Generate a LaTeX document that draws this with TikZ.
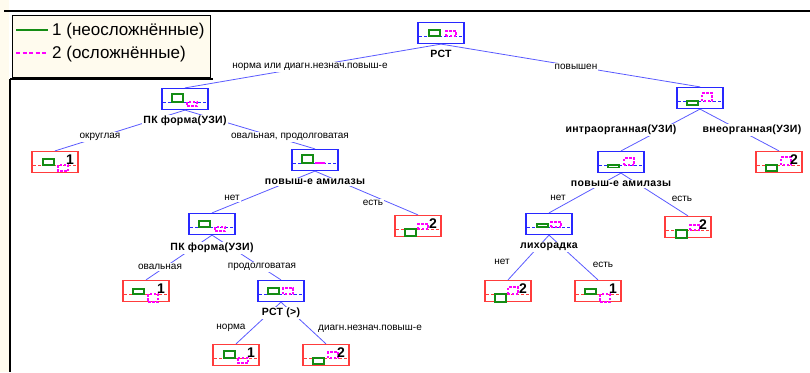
\documentclass[tikz,border=0pt]{standalone}
\usepackage{fontspec}
\setmainfont{Liberation Sans}
\newfontfamily\lblfont[LetterSpace=3.0]{Liberation Sans}
\usepackage{xcolor}
\usetikzlibrary{positioning}

\definecolor{boxblue}{RGB}{40,40,255}
\definecolor{boxred}{RGB}{255,60,60}
\definecolor{edgeblue}{RGB}{90,90,255}
\definecolor{bargreen}{RGB}{20,140,20}
\definecolor{barpink}{RGB}{255,0,255}
\definecolor{legcream}{RGB}{255,251,238}

% midline and the two class bars inside a box
\newcommand{\nodebars}[6]{%
  \begin{scope}[shift={(#1.center)}]
    \draw[midline, #2] (-22,3) -- (22,3);
    \draw[gbar] (#3,3) rectangle ++(11,#4);
    \draw[mbar] (#5,3) rectangle ++(10,#6);
  \end{scope}}

\begin{document}
\begin{tikzpicture}[
    x=1pt, y=-1pt,
    ibox/.style={
        rectangle,
        draw=boxblue,
        line width=1.2pt,
        fill=white,
        minimum width=46pt,
        minimum height=21pt,
        inner sep=0pt
    },
    lbox/.style={
        ibox,
        draw=boxred
    },
    nlab/.style={
        font=\lblfont\fontsize{10.5}{11}\selectfont\bfseries,
        fill=white,
        inner sep=1pt
    },
    elab/.style={
        font=\fontsize{10}{11}\selectfont,
        fill=white,
        inner sep=1pt
    },
    digit/.style={
        font=\fontsize{14}{14}\selectfont\bfseries,
        inner sep=0pt
    },
    link/.style={
        draw=edgeblue,
        line width=0.8pt
    },
    midline/.style={
        dash pattern=on 3pt off 2pt,
        line width=0.9pt
    },
    gbar/.style={
        draw=bargreen,
        line width=1.1pt
    },
    mbar/.style={
        draw=barpink,
        dash pattern=on 2.5pt off 1.5pt,
        line width=1.2pt
    }
]
    \useasboundingbox (0,0) rectangle (810,372);

    % frame and legend
    \fill[legcream] (0,0) rectangle (9,372);
    \draw[line width=1.2pt] (4,11) -- (810,11);
    \draw[line width=1.2pt] (10,79) -- (10,372);
    \draw[line width=1.6pt] (10,79) -- (213,79);
    \node[draw, fill=legcream, line width=0.9pt, anchor=north west,
          minimum width=198pt, minimum height=62pt] (leg) at (12,15) {};
    \node[anchor=west, inner sep=0pt, font=\fontsize{17}{17}\selectfont] (leg1) at (52,31) {1 (неосложнённые)};
    \node[anchor=west, inner sep=0pt, font=\fontsize{17}{17}\selectfont] (leg2) at (52,54) {2 (осложнённые)};
    \draw[gbar, line width=1.3pt] (16,30) -- (48,30);
    \draw[mbar, dash pattern=on 4pt off 2.5pt, line width=1.3pt] (16,53) -- (48,53);

    % boxes of the tree
    \node[ibox] (r) at (441,33) {};
    \node[ibox] (a) at (185,99) {};
    \node[ibox] (b) at (700,98) {};
    \node[lbox] (a1) at (55,162) {};
    \node[ibox] (c) at (315,160) {};
    \node[ibox] (b1) at (621,162) {};
    \node[lbox] (b2) at (779,162) {};
    \node[ibox] (d) at (212,224) {};
    \node[lbox] (c2) at (418,226) {};
    \node[ibox] (e) at (549,224) {};
    \node[lbox] (b12) at (688,227) {};
    \node[lbox] (d1) at (146,291) {};
    \node[ibox] (f) at (281,291) {};
    \node[lbox] (e2) at (508,291) {};
    \node[lbox] (e1) at (598,291) {};
    \node[lbox] (f1) at (236,355) {};
    \node[lbox] (f2) at (326,355) {};

    \nodebars{r}{boxblue}{-12}{-6}{5}{-5}
    \nodebars{a}{boxblue}{-13}{-8}{2}{4}
    \nodebars{b}{boxblue}{-13}{4}{2}{-8}
    \nodebars{a1}{boxred}{-12}{-6}{3}{6}
    \nodebars{c}{boxblue}{-13}{-8}{0}{0}
    \nodebars{b1}{boxblue}{-13}{2.5}{3}{-7}
    \nodebars{b2}{boxred}{-13}{6}{2}{-8}
    \nodebars{d}{boxblue}{-13}{-6}{3}{4}
    \nodebars{c2}{boxred}{-13}{7}{0}{-5}
    \nodebars{e}{boxblue}{-12}{-3}{2}{-5}
    \nodebars{b12}{boxred}{-12}{8}{2}{-5}
    \nodebars{d1}{boxred}{-13}{-5}{2}{8}
    \nodebars{f}{boxblue}{-13}{-6}{2}{-6}
    \nodebars{e2}{boxred}{-13}{8}{0}{-7}
    \nodebars{e1}{boxred}{-13}{-5}{2}{8}
    \nodebars{f1}{boxred}{-12}{-7}{2}{5}
    \nodebars{f2}{boxred}{-13}{6}{2}{-6}

    % class numbers in the leaves
    \node[digit] (a1n) at ([shift={(15,-2)}]a1.center) {1};
    \node[digit] (b2n) at ([shift={(15,-2)}]b2.center) {2};
    \node[digit] (c2n) at ([shift={(15,-2)}]c2.center) {2};
    \node[digit] (b12n) at ([shift={(15,-2)}]b12.center) {2};
    \node[digit] (d1n) at ([shift={(15,-2)}]d1.center) {1};
    \node[digit] (e2n) at ([shift={(15,-2)}]e2.center) {2};
    \node[digit] (e1n) at ([shift={(15,-2)}]e1.center) {1};
    \node[digit] (f1n) at ([shift={(15,-2)}]f1.center) {1};
    \node[digit] (f2n) at ([shift={(15,-2)}]f2.center) {2};

    % connectors
    \draw[link] (r.south) -- (a.north);
    \draw[link] (r.south) -- (b.north);
    \draw[link] (a.south) -- (a1.north);
    \draw[link] (a.south) -- (c.north);
    \draw[link] (b.south) -- (b1.north);
    \draw[link] (b.south) -- (b2.north);
    \draw[link] (c.south) -- (d.north);
    \draw[link] (c.south) -- (c2.north);
    \draw[link] (b1.south) -- (e.north);
    \draw[link] (b1.south) -- (b12.north);
    \draw[link] (d.south) -- (d1.north);
    \draw[link] (d.south) -- (f.north);
    \draw[link] (e.south) -- (e2.north);
    \draw[link] (e.south) -- (e1.north);
    \draw[link] (f.south) -- (f1.north);
    \draw[link] (f.south) -- (f2.north);

    % split variables under the boxes
    \node[nlab, below=5pt of r] (rL) {РСТ};
    \node[nlab, below=5pt of a] (aL) {ПК форма(УЗИ)};
    \node[nlab, below=7pt of c] (cL) {повыш-е амилазы};
    \node[nlab, below=7pt of b1] (b1L) {повыш-е амилазы};
    \node[nlab, below=7pt of d] (dL) {ПК форма(УЗИ)};
    \node[nlab, below=7pt of e] (eL) {лихорадка};
    \node[nlab, below=5pt of f] (fL) {РСТ (>)};
    \node[nlab] (bL1) at (621,130) {интраорганная(УЗИ)};
    \node[nlab] (bL2) at (752,130) {внеорганная(УЗИ)};

    % branch labels
    \node[elab] (ra) at (310,67) {норма или диагн.незнач.повыш-е};
    \node[elab] (rb) at (576,67) {повышен};
    \node[elab] (aa1) at (100,137) {округлая};
    \node[elab] (ac) at (290,137) {овальная, продолговатая};
    \node[elab] (cd) at (232,198) {нет};
    \node[elab] (cc2) at (373,203) {есть};
    \node[elab] (b1e) at (558,198) {нет};
    \node[elab] (b1b12) at (682,199) {есть};
    \node[elab] (dd1) at (160,267) {овальная};
    \node[elab] (df) at (262,267) {продолговатая};
    \node[elab] (ee2) at (502,262) {нет};
    \node[elab] (ee1) at (603,265) {есть};
    \node[elab] (ff1) at (231,328) {норма};
    \node[elab] (ff2) at (370,329) {диагн.незнач.повыш-е};

\end{tikzpicture}
\end{document}
